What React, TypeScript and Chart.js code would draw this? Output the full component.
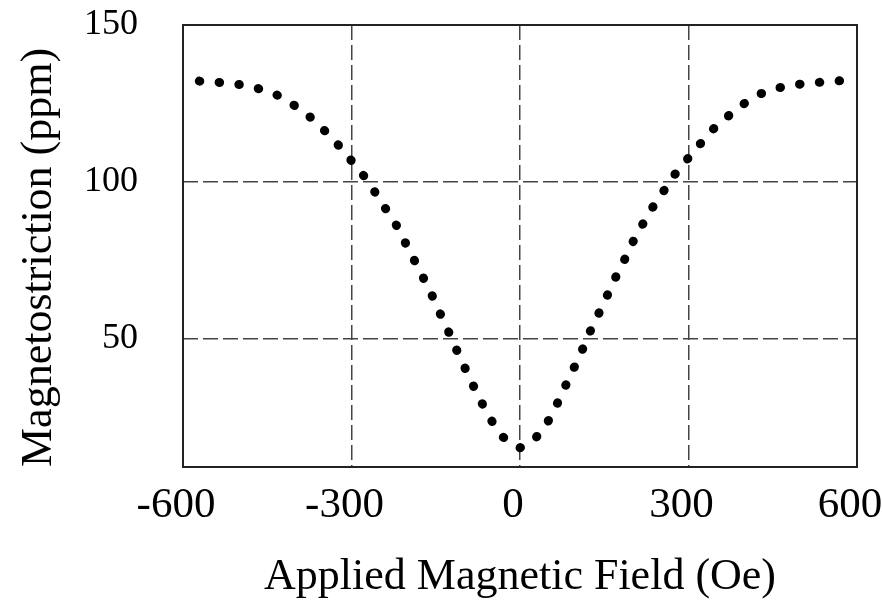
import React, { useEffect, useRef } from "react";
import { Chart, registerables } from "chart.js";

Chart.register(...registerables);

// Applied magnetic field (Oe)
const field: number[] = [
  -571, -537, -502, -467, -433, -403, -374, -349, -324, -301, -279, -259, -240, -220,
  -204, -188, -172, -156, -142, -127, -113, -98, -83, -67, -50, -30, 0,
  29, 50, 66, 81, 96, 111, 125, 140, 155, 170, 186, 201, 218, 236, 256, 276, 298,
  321, 344, 371, 399, 429, 462, 497, 533, 569,
];

// Magnetostriction (ppm)
const magnetostriction: number[] = [
  132.1, 131.7, 131.1, 129.8, 127.7, 124.5, 120.7, 116.5, 111.8, 106.9, 102.1, 96.9, 91.6, 86.1,
  80.5, 74.9, 69.3, 63.5, 57.9, 52.1, 46.4, 40.6, 34.9, 29.1, 23.6, 18.5, 15.1,
  18.5, 23.6, 29.1, 34.9, 40.6, 46.4, 52.3, 57.9, 63.6, 69.4, 75.1, 80.8, 86.3, 91.8, 97.1, 102.4, 107.2,
  112.1, 116.8, 121.0, 124.9, 128.1, 130.0, 131.1, 131.7, 132.2,
];

const xTicks: number[] = [-600, -300, 0, 300, 600];
const yTicks: number[] = [50, 100, 150];

const xTitle = "Applied Magnetic Field (Oe)";
const yTitle = "Magnetostriction (ppm)";

const SERIF = '"Liberation Serif", "Times New Roman", serif';
const DOT_SPACING = 20;

const framePlugin = {
  id: "frame",
  afterDatasetsDraw(chart: any) {
    const { ctx, chartArea } = chart;
    ctx.save();
    ctx.strokeStyle = "#222";
    ctx.lineWidth = 2;
    ctx.setLineDash([]);
    ctx.strokeRect(chartArea.left, chartArea.top, chartArea.right - chartArea.left, chartArea.bottom - chartArea.top);
    ctx.restore();
  },
};

// Spread the round dots evenly along the curve so both ends carry a dot
const dotSpacingPlugin = {
  id: "dotSpacing",
  beforeDatasetsDraw(chart: any) {
    const meta = chart.getDatasetMeta(0);
    const pts = meta.data;
    let len = 0;
    for (let i = 1; i < pts.length; i++) {
      len += Math.hypot(pts[i].x - pts[i - 1].x, pts[i].y - pts[i - 1].y);
    }
    const n = Math.max(1, Math.round(len / DOT_SPACING));
    const period = (len - 0.5) / n;
    meta.dataset.options = { ...meta.dataset.options, borderDash: [0.5, period - 0.5] };
  },
};

export default function App() {
  const ref = useRef<HTMLCanvasElement | null>(null);

  useEffect(() => {
    if (!ref.current) return;
    const chart = new Chart(ref.current, {
      type: "line",
      data: {
        datasets: [
          {
            data: field.map((x, i) => ({ x, y: magnetostriction[i] })),
            borderColor: "#000",
            borderWidth: 9,
            borderCapStyle: "round",
            borderDash: [0.5, DOT_SPACING - 0.5],
            pointRadius: 0,
            tension: 0,
            fill: false,
          },
        ],
      },
      options: {
        animation: false,
        responsive: false,
        events: [],
        layout: { padding: { top: 25, right: 25, left: 0, bottom: 0 } },
        plugins: { legend: { display: false }, tooltip: { enabled: false } },
        scales: {
          x: {
            type: "linear",
            min: -600,
            max: 600,
            afterBuildTicks: (scale: any) => {
              scale.ticks = xTicks.map((v) => ({ value: v }));
            },
            afterFit: (scale: any) => {
              scale.paddingLeft = 0;
              scale.paddingRight = 0;
              scale.height = 139;
            },
            ticks: {
              color: "#000",
              font: { family: SERIF, size: 43 },
              padding: 13,
              labelOffset: -7,
              maxRotation: 0,
              autoSkip: false,
            },
            grid: { color: "#444", lineWidth: 1.5, drawTicks: false },
            border: { display: false, dash: [15, 5] },
            title: {
              display: true,
              text: xTitle,
              color: "#000",
              font: { family: SERIF, size: 44 },
              padding: { top: 0, bottom: 2 },
            },
          },
          y: {
            type: "linear",
            min: 9,
            max: 150,
            afterBuildTicks: (scale: any) => {
              scale.ticks = yTicks.map((v) => ({ value: v }));
            },
            afterFit: (scale: any) => {
              scale.width = 183;
              scale.paddingTop = 0;
              scale.paddingBottom = 0;
            },
            ticks: {
              color: "#000",
              font: { family: SERIF, size: 36 },
              padding: 45,
            },
            grid: { color: "#444", lineWidth: 1.5, drawTicks: false },
            border: { display: false, dash: [15, 5] },
            title: {
              display: true,
              text: yTitle,
              align: "start",
              color: "#000",
              font: { family: SERIF, size: 44 },
              padding: { top: 13, bottom: 0 },
            },
          },
        },
      },
      plugins: [dotSpacingPlugin, framePlugin],
    } as any);
    return () => chart.destroy();
  }, []);

  return (
    <div style={{ position: "fixed", left: 0, top: 0, width: 882, height: 606, background: "#fff" }}>
      <canvas ref={ref} width={882} height={606} style={{ display: "block" }} />
    </div>
  );
}
